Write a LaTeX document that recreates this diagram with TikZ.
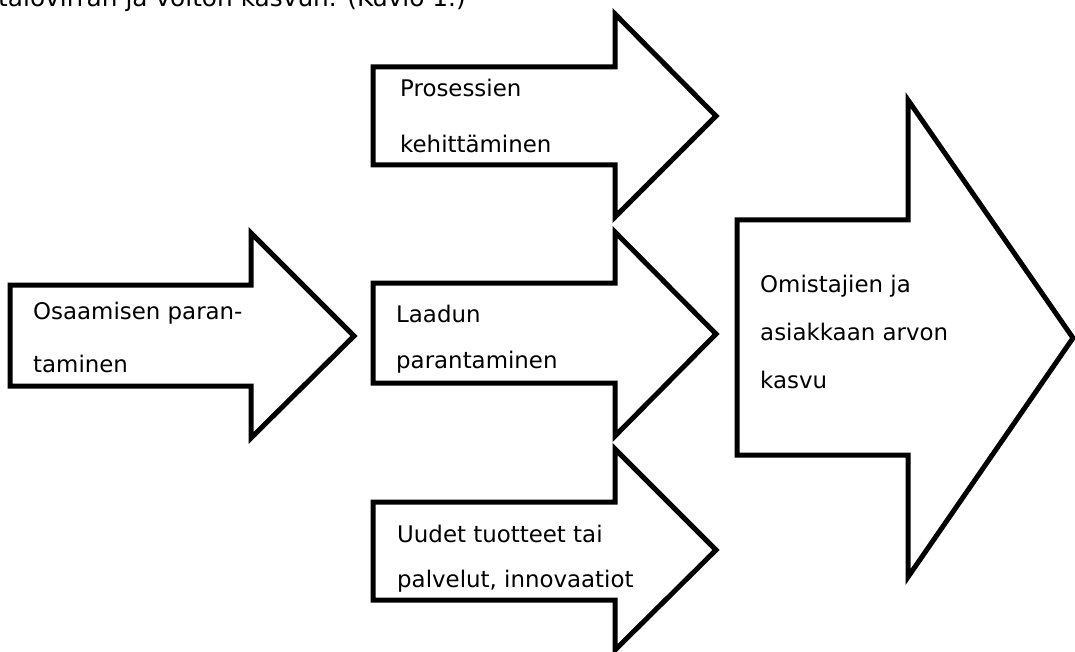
\documentclass[tikz,border=0pt]{standalone}
\usepackage{fontspec}
\setmainfont{DejaVu Sans}

\begin{document}
\begin{tikzpicture}[x=1pt, y=-1pt,
    nuoli/.style={draw, line width=5pt, line join=miter, fill=white},
    teksti/.style={anchor=base west, inner sep=0pt, align=left,
                   font=\fontsize{22.9}{#1}\selectfont},
    teksti/.default=50]
    \useasboundingbox (0,0) rectangle (1075,652);
    % leipäteksti kuvan yläreunassa (rajautuu pois)
    \node[anchor=base west, inner sep=0pt, font=\fontsize{24.8}{28}\selectfont] (leipa) at (-2,7) {talovirran ja voiton kasvun. (Kuvio 1.)};
    % vasen nuoli
    \draw[nuoli] (10,285) -- (251,285) -- (251,233) -- (354,336) -- (251,438) -- (251,386) -- (10,386) -- cycle;
    \node[teksti=53] (osaaminen) at (33,372) {Osaamisen paran-\\taminen};
    % keskimmäiset nuolet
    \draw[nuoli] (373,67) -- (615,67) -- (615,14) -- (716,116) -- (615,217) -- (615,165) -- (373,165) -- cycle;
    \node[teksti=56] (prosessit) at (400,153) {Prosessien\\kehittäminen};
    \draw[nuoli] (373,283) -- (615,283) -- (615,232) -- (716,334) -- (615,436) -- (615,383) -- (373,383) -- cycle;
    \node[teksti=46] (laatu) at (396,368) {Laadun\\parantaminen};
    \draw[nuoli] (373,502) -- (615,502) -- (615,449) -- (716,550) -- (615,650) -- (615,600) -- (373,600) -- cycle;
    \node[teksti=45] (uudet) at (397,587) {Uudet tuotteet tai\\palvelut, innovaatiot};
    % iso nuoli oikealla
    \draw[nuoli] (737,220) -- (908,220) -- (908,100) -- (1073,338) -- (908,577) -- (908,455) -- (737,455) -- cycle;
    \node[teksti=48] (arvo) at (760,388) {Omistajien ja\\asiakkaan arvon\\kasvu};
\end{tikzpicture}
\end{document}
